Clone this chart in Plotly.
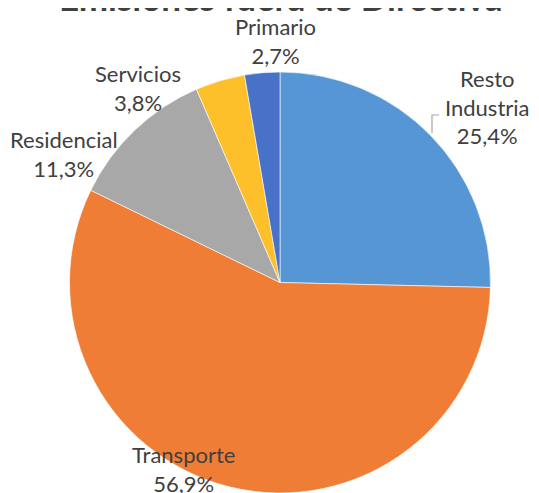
import plotly.graph_objects as go

# ---------------------------------------------------------
# Data
# ---------------------------------------------------------
sectores = ["Resto Industria", "Transporte", "Residencial", "Servicios", "Primario"]
porcentajes = [25.4, 56.9, 11.3, 3.8, 2.7]
colores = ["#5796d4", "#f07d35", "#a8a8a8", "#fdc02a", "#4772c7"]

titulo = "Emisiones fuera de Directiva"

# label text lines (name split like the original)
nombres_label = ["Resto<br>Industria", "Transporte", "Residencial", "Servicios", "Primario"]

# page offset of the plot div (browser body margin)
OFF = 8
W, H = 531, 485

# label centres in page pixels (x, y from top)
label_pos = [(487, 107), (183, 469), (64, 154), (138, 88), (275, 41)]


def px(x):
    return (x - OFF) / W


def py(y):
    return 1 - (y - OFF) / H


fig = go.Figure()

fig.add_trace(
    go.Pie(
        labels=sectores,
        values=porcentajes,
        sort=False,
        direction="clockwise",
        rotation=0,
        marker=dict(colors=colores, line=dict(color="rgba(255,255,255,0.6)", width=1)),
        textinfo="none",
        hovertemplate="%{label}: %{value:.1f}%<extra></extra>",
        showlegend=False,
        domain=dict(x=[px(280 - 213), px(280 + 213)], y=[0, py(72)]),
    )
)

# ---------------------------------------------------------
# Labels
# ---------------------------------------------------------
for nombre, pct, (lx, ly) in zip(nombres_label, porcentajes, label_pos):
    txt = nombre + "<br>" + f"{pct:.1f}".replace(".", ",") + "%"
    fig.add_annotation(
        x=px(lx),
        y=py(ly),
        xref="paper",
        yref="paper",
        text=txt,
        showarrow=False,
        xanchor="center",
        yanchor="middle",
        font=dict(family="Lato", size=22, color="#404040"),
    )

# leader line for Resto Industria
fig.add_shape(
    type="path",
    path=f"M {px(432)} {py(133)} L {px(432)} {py(115)} L {px(439)} {py(115)}",
    xref="paper",
    yref="paper",
    line=dict(color="#a6a6a6", width=1.2),
)

# title (partly cut off at the top, as in the original)
fig.add_annotation(
    x=px(280),
    y=py(20),
    xref="paper",
    yref="paper",
    text=f"<b>{titulo}</b>",
    showarrow=False,
    xanchor="center",
    yanchor="bottom",
    font=dict(family="Lato", size=35, color="#404040"),
)

fig.update_layout(
    width=W,
    height=H,
    margin=dict(l=0, r=0, t=0, b=0),
    paper_bgcolor="white",
    plot_bgcolor="white",
    separators=",.",
)

fig.write_html("out.html")
